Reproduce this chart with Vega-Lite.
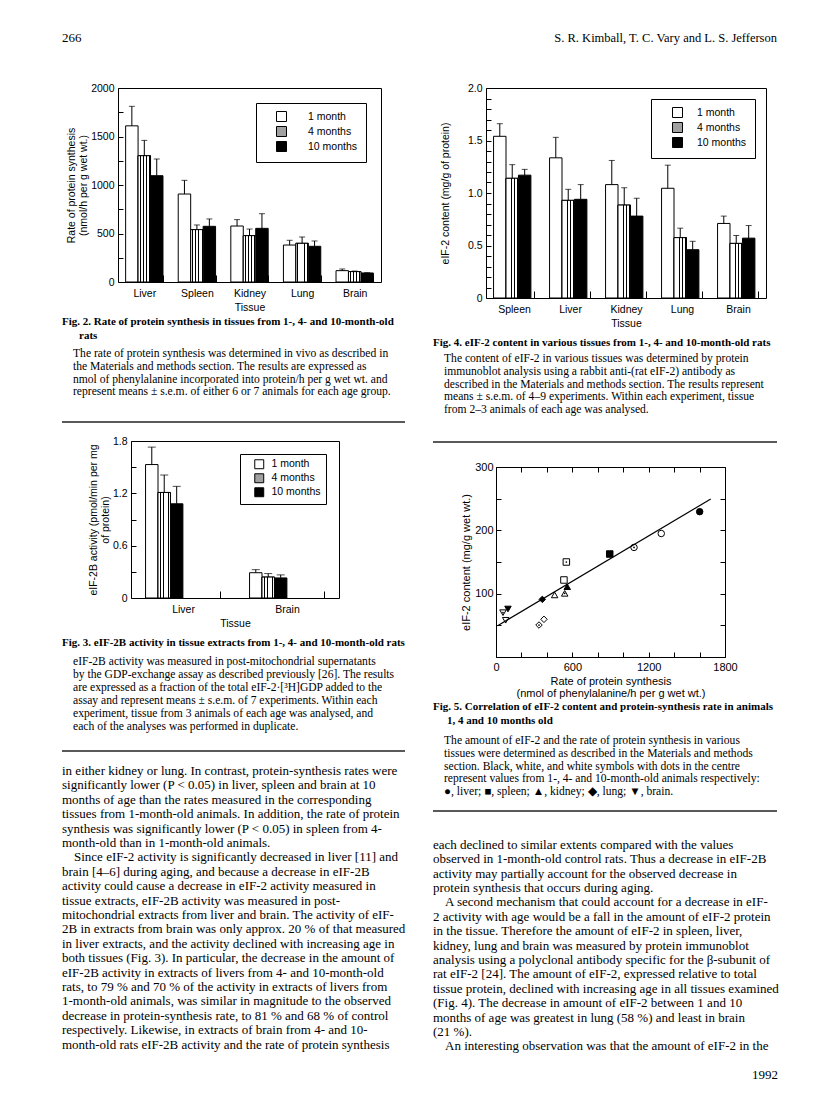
{
"$schema": "https://vega.github.io/schema/vega-lite/v6.json",
"background": "white",
"padding": {"left": 61, "top": 31, "right": 4, "bottom": 4},
"config": {
  "font": "Liberation Sans",
  "view": {"stroke": null},
  "axis": {"labelFont": "Liberation Sans", "titleFont": "Liberation Sans", "labelFontSize": 10.5, "titleFontSize": 10.5, "titleFontWeight": "normal", "labelColor": "black", "titleColor": "black", "tickColor": "black", "domainColor": "black", "grid": false, "labelAngle": 0},
  "legend": {"labelFont": "Liberation Sans", "labelFontSize": 10.5, "labelColor": "black"}
},
"datasets": {
  "f2": [
    {"t": "Liver", "a": "1 month", "v": 1610, "hi": 1811},
    {"t": "Liver", "a": "4 months", "v": 1302, "hi": 1460},
    {"t": "Liver", "a": "10 months", "v": 1096, "hi": 1268},
    {"t": "Spleen", "a": "1 month", "v": 907, "hi": 1048},
    {"t": "Spleen", "a": "4 months", "v": 540, "hi": 588},
    {"t": "Spleen", "a": "10 months", "v": 574, "hi": 650},
    {"t": "Kidney", "a": "1 month", "v": 577, "hi": 643},
    {"t": "Kidney", "a": "4 months", "v": 478, "hi": 546},
    {"t": "Kidney", "a": "10 months", "v": 553, "hi": 704},
    {"t": "Lung", "a": "1 month", "v": 381, "hi": 430},
    {"t": "Lung", "a": "4 months", "v": 399, "hi": 464},
    {"t": "Lung", "a": "10 months", "v": 368, "hi": 423},
    {"t": "Brain", "a": "1 month", "v": 117, "hi": 134},
    {"t": "Brain", "a": "4 months", "v": 107, "hi": 113},
    {"t": "Brain", "a": "10 months", "v": 93, "hi": 96}
  ],
  "f4": [
    {"t": "Spleen", "a": "1 month", "v": 1.54, "hi": 1.66},
    {"t": "Spleen", "a": "4 months", "v": 1.14, "hi": 1.27},
    {"t": "Spleen", "a": "10 months", "v": 1.17, "hi": 1.225},
    {"t": "Liver", "a": "1 month", "v": 1.335, "hi": 1.53},
    {"t": "Liver", "a": "4 months", "v": 0.93, "hi": 1.035},
    {"t": "Liver", "a": "10 months", "v": 0.94, "hi": 1.08},
    {"t": "Kidney", "a": "1 month", "v": 1.08, "hi": 1.31},
    {"t": "Kidney", "a": "4 months", "v": 0.885, "hi": 1.05},
    {"t": "Kidney", "a": "10 months", "v": 0.78, "hi": 0.95},
    {"t": "Lung", "a": "1 month", "v": 1.045, "hi": 1.265},
    {"t": "Lung", "a": "4 months", "v": 0.575, "hi": 0.665},
    {"t": "Lung", "a": "10 months", "v": 0.46, "hi": 0.54},
    {"t": "Brain", "a": "1 month", "v": 0.71, "hi": 0.78},
    {"t": "Brain", "a": "4 months", "v": 0.52, "hi": 0.595},
    {"t": "Brain", "a": "10 months", "v": 0.57, "hi": 0.69}
  ],
  "f3": [
    {"t": "Liver", "a": "1 month", "v": 1.53, "hi": 1.73},
    {"t": "Liver", "a": "4 months", "v": 1.21, "hi": 1.41},
    {"t": "Liver", "a": "10 months", "v": 1.08, "hi": 1.28},
    {"t": "Brain", "a": "1 month", "v": 0.29, "hi": 0.325},
    {"t": "Brain", "a": "4 months", "v": 0.24, "hi": 0.28},
    {"t": "Brain", "a": "10 months", "v": 0.23, "hi": 0.265}
  ],
  "f5": [
    {"t": "Liver", "a": "1 month", "x": 1601, "y": 229.5},
    {"t": "Liver", "a": "4 months", "x": 1299, "y": 195},
    {"t": "Liver", "a": "10 months", "x": 1085, "y": 173},
    {"t": "Spleen", "a": "1 month", "x": 894, "y": 162.6},
    {"t": "Spleen", "a": "4 months", "x": 534, "y": 121.6},
    {"t": "Spleen", "a": "10 months", "x": 553, "y": 150},
    {"t": "Kidney", "a": "1 month", "x": 560, "y": 111},
    {"t": "Kidney", "a": "4 months", "x": 461, "y": 98},
    {"t": "Kidney", "a": "10 months", "x": 540, "y": 100.5},
    {"t": "Lung", "a": "1 month", "x": 364, "y": 91},
    {"t": "Lung", "a": "4 months", "x": 377, "y": 59.5},
    {"t": "Lung", "a": "10 months", "x": 338, "y": 50.5},
    {"t": "Brain", "a": "1 month", "x": 94, "y": 75.8},
    {"t": "Brain", "a": "4 months", "x": 76, "y": 58},
    {"t": "Brain", "a": "10 months", "x": 55, "y": 70}
  ],
  "f5line": [{"x": 13, "y": 49.5}, {"x": 1688, "y": 249.5}],
  "hdrL": [{"t": "266"}],
  "hdrR": [{"t": "S. R. Kimball, T. C. Vary and L. S. Jefferson"}],
  "cap2t": [
    {"n": 0, "t": "Fig. 2. Rate of protein synthesis in tissues from 1-, 4- and 10-month-old"}
  ],
  "cap2ti": [
    {"n": 1, "t": "rats"}
  ],
  "cap2b": [
    {"n": 0, "t": "The rate of protein synthesis was determined in vivo as described in"},
    {"n": 1, "t": "the Materials and methods section. The results are expressed as"},
    {"n": 2, "t": "nmol of phenylalanine incorporated into protein/h per g wet wt. and"},
    {"n": 3, "t": "represent means \u00b1 s.e.m. of either 6 or 7 animals for each age group."}
  ],
  "cap3t": [
    {"n": 0, "t": "Fig. 3. eIF-2B activity in tissue extracts from 1-, 4- and 10-month-old rats"}
  ],
  "cap3b": [
    {"n": 0, "t": "eIF-2B activity was measured in post-mitochondrial supernatants"},
    {"n": 1, "t": "by the GDP-exchange assay as described previously [26]. The results"},
    {"n": 2, "t": "are expressed as a fraction of the total eIF-2\u00b7[\u00b3H]GDP added to the"},
    {"n": 3, "t": "assay and represent means \u00b1 s.e.m. of 7 experiments. Within each"},
    {"n": 4, "t": "experiment, tissue from 3 animals of each age was analysed, and"},
    {"n": 5, "t": "each of the analyses was performed in duplicate."}
  ],
  "cap4t": [
    {"n": 0, "t": "Fig. 4. eIF-2 content in various tissues from 1-, 4- and 10-month-old rats"}
  ],
  "cap4b": [
    {"n": 0, "t": "The content of eIF-2 in various tissues was determined by protein"},
    {"n": 1, "t": "immunoblot analysis using a rabbit anti-(rat eIF-2) antibody as"},
    {"n": 2, "t": "described in the Materials and methods section. The results represent"},
    {"n": 3, "t": "means \u00b1 s.e.m. of 4\u20139 experiments. Within each experiment, tissue"},
    {"n": 4, "t": "from 2\u20133 animals of each age was analysed."}
  ],
  "cap5t": [
    {"n": 0, "t": "Fig. 5. Correlation of eIF-2 content and protein-synthesis rate in animals"}
  ],
  "cap5ti": [
    {"n": 1, "t": "1, 4 and 10 months old"}
  ],
  "cap5b": [
    {"n": 0, "t": "The amount of eIF-2 and the rate of protein synthesis in various"},
    {"n": 1, "t": "tissues were determined as described in the Materials and methods"},
    {"n": 2, "t": "section. Black, white, and white symbols with dots in the centre"},
    {"n": 3, "t": "represent values from 1-, 4- and 10-month-old animals respectively:"},
    {"n": 4, "t": "\u25cf, liver; \u25a0, spleen; \u25b2, kidney; \u25c6, lung; \u25bc, brain."}
  ],
  "bodyL": [
    {"n": 0, "t": "in either kidney or lung. In contrast, protein-synthesis rates were"},
    {"n": 1, "t": "significantly lower (P < 0.05) in liver, spleen and brain at 10"},
    {"n": 2, "t": "months of age than the rates measured in the corresponding"},
    {"n": 3, "t": "tissues from 1-month-old animals. In addition, the rate of protein"},
    {"n": 4, "t": "synthesis was significantly lower (P < 0.05) in spleen from 4-"},
    {"n": 5, "t": "month-old than in 1-month-old animals."},
    {"n": 7, "t": "brain [4\u20136] during aging, and because a decrease in eIF-2B"},
    {"n": 8, "t": "activity could cause a decrease in eIF-2 activity measured in"},
    {"n": 9, "t": "tissue extracts, eIF-2B activity was measured in post-"},
    {"n": 10, "t": "mitochondrial extracts from liver and brain. The activity of eIF-"},
    {"n": 11, "t": "2B in extracts from brain was only approx. 20 % of that measured"},
    {"n": 12, "t": "in liver extracts, and the activity declined with increasing age in"},
    {"n": 13, "t": "both tissues (Fig. 3). In particular, the decrease in the amount of"},
    {"n": 14, "t": "eIF-2B activity in extracts of livers from 4- and 10-month-old"},
    {"n": 15, "t": "rats, to 79 % and 70 % of the activity in extracts of livers from"},
    {"n": 16, "t": "1-month-old animals, was similar in magnitude to the observed"},
    {"n": 17, "t": "decrease in protein-synthesis rate, to 81 % and 68 % of control"},
    {"n": 18, "t": "respectively. Likewise, in extracts of brain from 4- and 10-"},
    {"n": 19, "t": "month-old rats eIF-2B activity and the rate of protein synthesis"}
  ],
  "bodyLi": [
    {"n": 6, "t": "Since eIF-2 activity is significantly decreased in liver [11] and"}
  ],
  "bodyR": [
    {"n": 0, "t": "each declined to similar extents compared with the values"},
    {"n": 1, "t": "observed in 1-month-old control rats. Thus a decrease in eIF-2B"},
    {"n": 2, "t": "activity may partially account for the observed decrease in"},
    {"n": 3, "t": "protein synthesis that occurs during aging."},
    {"n": 5, "t": "2 activity with age would be a fall in the amount of eIF-2 protein"},
    {"n": 6, "t": "in the tissue. Therefore the amount of eIF-2 in spleen, liver,"},
    {"n": 7, "t": "kidney, lung and brain was measured by protein immunoblot"},
    {"n": 8, "t": "analysis using a polyclonal antibody specific for the \u03b2-subunit of"},
    {"n": 9, "t": "rat eIF-2 [24]. The amount of eIF-2, expressed relative to total"},
    {"n": 10, "t": "tissue protein, declined with increasing age in all tissues examined"},
    {"n": 11, "t": "(Fig. 4). The decrease in amount of eIF-2 between 1 and 10"},
    {"n": 12, "t": "months of age was greatest in lung (58 %) and least in brain"},
    {"n": 13, "t": "(21 %)."}
  ],
  "bodyRi": [
    {"n": 4, "t": "A second mechanism that could account for a decrease in eIF-"},
    {"n": 14, "t": "An interesting observation was that the amount of eIF-2 in the"}
  ],
  "foot": [{"n": 16, "t": "1992"}]
},
"resolve": {"scale": {"fill": "independent", "shape": "independent"}},
"vconcat": [
  {
    "width": 715, "height": 14,
    "layer": [
      {"data": {"name": "hdrL"}, "mark": {"type": "text", "align": "left", "baseline": "middle", "font": "Liberation Serif", "fontSize": 13, "color": "black"},
       "encoding": {"x": {"datum": 0, "type": "quantitative", "scale": {"domain": [0, 1]}, "axis": null}, "y": {"datum": 0, "type": "quantitative", "scale": {"domain": [-1, 1]}, "axis": null}, "text": {"field": "t"}}},
      {"data": {"name": "hdrR"}, "mark": {"type": "text", "align": "right", "baseline": "middle", "font": "Liberation Serif", "fontSize": 12.5, "color": "black"},
       "encoding": {"x": {"datum": 1, "type": "quantitative", "scale": {"domain": [0, 1]}, "axis": null}, "y": {"datum": 0, "type": "quantitative", "scale": {"domain": [-1, 1]}, "axis": null}, "text": {"field": "t"}}}
    ]
  },
  {
    "spacing": 26,
    "resolve": {"scale": {"fill": "independent", "shape": "independent"}},
    "hconcat": [
      {
        "spacing": 0,
        "resolve": {"scale": {"fill": "independent", "shape": "independent"}},
        "vconcat": [
          {
            "spacing": 0,
            "resolve": {"scale": {"fill": "independent", "shape": "independent"}},
            "hconcat": [
              {"width": 4, "height": 1, "data": {"values": []}, "mark": "point", "encoding": {}},
              {
                "width": 263, "height": 194,
                "view": {"stroke": "black", "strokeWidth": 1},
                "data": {"name": "f2"},
                "encoding": {
                  "x": {"field": "t", "type": "nominal", "sort": ["Liver", "Spleen", "Kidney", "Lung", "Brain"], "scale": {"paddingInner": 0.29, "paddingOuter": 0.145},
                        "axis": {"title": "Tissue", "tickBand": "extent", "tickSize": -7, "labelPadding": 13, "domain": false, "titlePadding": 4}},
                  "xOffset": {"field": "a", "type": "nominal", "sort": ["1 month", "4 months", "10 months"], "scale": {"paddingInner": 0, "paddingOuter": 0}},
                  "y": {"field": "v", "type": "quantitative", "scale": {"domain": [0, 2000], "nice": false},
                        "axis": {"title": ["Rate of protein synthesis", "(nmol/h per g wet wt.)"], "values": [0, 250, 500, 750, 1000, 1250, 1500, 1750, 2000], "format": "d", "labelExpr": "datum.value % 500 === 0 ? datum.label : ''", "tickSize": -5, "labelPadding": 9, "domain": false, "titlePadding": 2, "titleLineHeight": 12}}
                },
                "layer": [
                  {"mark": {"type": "bar", "stroke": "black", "strokeWidth": 1},
                   "encoding": {
                     "fill": {"field": "a", "type": "nominal", "sort": ["1 month", "4 months", "10 months"], "scale": {"domain": ["1 month", "4 months", "10 months"], "range": ["white", "#a0a0a0", "black"]},
                              "legend": {"orient": "top-right", "offset": 15, "title": null, "strokeColor": "black", "fillColor": "white", "padding": 8, "symbolType": "square", "symbolSize": 100, "symbolStrokeColor": "black", "symbolStrokeWidth": 1, "labelOffset": 21, "symbolOffset": 12, "rowPadding": 0}}
                   }},
                  {"transform": [{"filter": "datum.a === '4 months'"}],
                   "mark": {"type": "bar", "stroke": "black", "strokeWidth": 1, "fill": {"gradient": "linear", "x1": 0, "y1": 0, "x2": 1, "y2": 0, "stops": [
                     {"offset": 0, "color": "white"}, {"offset": 0.125, "color": "white"}, {"offset": 0.125, "color": "black"}, {"offset": 0.2, "color": "black"}, {"offset": 0.2, "color": "white"},
                     {"offset": 0.375, "color": "white"}, {"offset": 0.375, "color": "black"}, {"offset": 0.45, "color": "black"}, {"offset": 0.45, "color": "white"},
                     {"offset": 0.625, "color": "white"}, {"offset": 0.625, "color": "black"}, {"offset": 0.7, "color": "black"}, {"offset": 0.7, "color": "white"},
                     {"offset": 0.875, "color": "white"}, {"offset": 0.875, "color": "black"}, {"offset": 0.95, "color": "black"}, {"offset": 0.95, "color": "white"}, {"offset": 1, "color": "white"}]}}},
                  {"mark": {"type": "rule", "color": "black", "strokeWidth": 1},
                   "encoding": {"y2": {"field": "hi"}}},
                  {"mark": {"type": "tick", "color": "black", "thickness": 1, "size": 6},
                   "encoding": {"y": {"field": "hi", "type": "quantitative", "scale": {"domain": [0, 2000], "nice": false},
                        "axis": {"title": ["Rate of protein synthesis", "(nmol/h per g wet wt.)"], "values": [0, 250, 500, 750, 1000, 1250, 1500, 1750, 2000], "format": "d", "labelExpr": "datum.value % 500 === 0 ? datum.label : ''", "tickSize": -5, "labelPadding": 9, "domain": false, "titlePadding": 2, "titleLineHeight": 12}}}}
                ]
              }
            ]
          },
          {"width": 344, "height": 29,
           "layer": [
             {"data": {"name": "cap2t"},
              "mark": {"type": "text", "align": "left", "baseline": "middle", "font": "Liberation Serif", "fontSize": 11, "fontWeight": "bold", "color": "black"},
              "encoding": {"x": {"datum": 0, "type": "quantitative", "scale": {"domain": [0, 1]}, "axis": null},
                           "y": {"field": "n", "type": "quantitative", "scale": {"domain": [-0.571, 1.5], "reverse": true, "nice": false, "zero": false}, "axis": null},
                           "text": {"field": "t"}}},
             {"data": {"name": "cap2ti"},
              "mark": {"type": "text", "align": "left", "baseline": "middle", "font": "Liberation Serif", "fontSize": 11, "fontWeight": "bold", "color": "black", "dx": 17},
              "encoding": {"x": {"datum": 0, "type": "quantitative", "scale": {"domain": [0, 1]}, "axis": null},
                           "y": {"field": "n", "type": "quantitative", "scale": {"domain": [-0.571, 1.5], "reverse": true, "nice": false, "zero": false}, "axis": null},
                           "text": {"field": "t"}}}
           ]},
          {"width": 344, "height": 78, "data": {"name": "cap2b"},
           "mark": {"type": "text", "align": "left", "baseline": "middle", "font": "Liberation Serif", "fontSize": 11.6, "color": "black", "dx": 11},
           "encoding": {"x": {"datum": 0, "type": "quantitative", "scale": {"domain": [0, 1]}, "axis": null},
                        "y": {"field": "n", "type": "quantitative", "scale": {"domain": [-0.859, 5.235], "reverse": true, "nice": false, "zero": false}, "axis": null},
                        "text": {"field": "t"}}},
          {"width": 343, "height": 13, "data": {"values": [{}]},
           "mark": {"type": "rule", "color": "#222222", "strokeWidth": 1.5},
           "encoding": {"x": {"datum": 0, "type": "quantitative", "scale": {"domain": [0, 1]}, "axis": null}, "x2": {"datum": 1},
                        "y": {"datum": 1, "type": "quantitative", "scale": {"domain": [0, 1]}, "axis": null}}},
          {
            "spacing": 0,
            "resolve": {"scale": {"fill": "independent", "shape": "independent"}},
            "hconcat": [
              {"width": 25, "height": 1, "data": {"values": []}, "mark": "point", "encoding": {}},
              {
                "width": 208, "height": 157,
                "view": {"stroke": "black", "strokeWidth": 1},
                "data": {"name": "f3"},
                "encoding": {
                  "x": {"field": "t", "type": "nominal", "sort": ["Liver", "Brain"], "scale": {"paddingInner": 0.28, "paddingOuter": 0.14},
                        "axis": {"title": "Tissue", "tickBand": "extent", "tickSize": -7, "labelPadding": 13, "domain": false, "titlePadding": 4}},
                  "xOffset": {"field": "a", "type": "nominal", "sort": ["1 month", "4 months", "10 months"], "scale": {"paddingInner": 0, "paddingOuter": 0}},
                  "y": {"field": "v", "type": "quantitative", "scale": {"domain": [0, 1.8], "nice": false},
                        "axis": {"title": ["eIF-2B activity (pmol/min per mg", "of protein)"], "values": [0, 0.3, 0.6, 0.9, 1.2, 1.5, 1.8], "labelExpr": "datum.value === 0 ? '0' : (abs(datum.value / 0.6 - round(datum.value / 0.6)) < 0.000001 ? format(datum.value, '.1f') : '')", "tickSize": -5, "labelPadding": 9, "domain": false, "titlePadding": 2, "titleLineHeight": 12}}
                },
                "layer": [
                  {"mark": {"type": "bar", "stroke": "black", "strokeWidth": 1},
                   "encoding": {
                     "fill": {"field": "a", "type": "nominal", "sort": ["1 month", "4 months", "10 months"], "scale": {"domain": ["1 month", "4 months", "10 months"], "range": ["white", "#a0a0a0", "black"]},
                              "legend": {"orient": "top-right", "offset": 13, "title": null, "strokeColor": "black", "fillColor": "white", "padding": 5, "symbolType": "square", "symbolSize": 80, "symbolStrokeColor": "black", "symbolStrokeWidth": 1, "labelOffset": 7, "symbolOffset": 9, "rowPadding": 0}}
                   }},
                  {"transform": [{"filter": "datum.a === '4 months'"}],
                   "mark": {"type": "bar", "stroke": "black", "strokeWidth": 1, "fill": {"gradient": "linear", "x1": 0, "y1": 0, "x2": 1, "y2": 0, "stops": [
                     {"offset": 0, "color": "white"}, {"offset": 0.0625, "color": "white"}, {"offset": 0.0625, "color": "black"}, {"offset": 0.1, "color": "black"}, {"offset": 0.1, "color": "white"},
                     {"offset": 0.1875, "color": "white"}, {"offset": 0.1875, "color": "black"}, {"offset": 0.225, "color": "black"}, {"offset": 0.225, "color": "white"},
                     {"offset": 0.3125, "color": "white"}, {"offset": 0.3125, "color": "black"}, {"offset": 0.35, "color": "black"}, {"offset": 0.35, "color": "white"},
                     {"offset": 0.4375, "color": "white"}, {"offset": 0.4375, "color": "black"}, {"offset": 0.475, "color": "black"}, {"offset": 0.475, "color": "white"},
                     {"offset": 0.5625, "color": "white"}, {"offset": 0.5625, "color": "black"}, {"offset": 0.6, "color": "black"}, {"offset": 0.6, "color": "white"},
                     {"offset": 0.6875, "color": "white"}, {"offset": 0.6875, "color": "black"}, {"offset": 0.725, "color": "black"}, {"offset": 0.725, "color": "white"},
                     {"offset": 0.8125, "color": "white"}, {"offset": 0.8125, "color": "black"}, {"offset": 0.85, "color": "black"}, {"offset": 0.85, "color": "white"},
                     {"offset": 0.9375, "color": "white"}, {"offset": 0.9375, "color": "black"}, {"offset": 0.975, "color": "black"}, {"offset": 0.975, "color": "white"}, {"offset": 1, "color": "white"}]}}},
                  {"mark": {"type": "rule", "color": "black", "strokeWidth": 1},
                   "encoding": {"y2": {"field": "hi"}}},
                  {"mark": {"type": "tick", "color": "black", "thickness": 1, "size": 8},
                   "encoding": {"y": {"field": "hi", "type": "quantitative", "scale": {"domain": [0, 1.8], "nice": false},
                        "axis": {"title": ["eIF-2B activity (pmol/min per mg", "of protein)"], "values": [0, 0.3, 0.6, 0.9, 1.2, 1.5, 1.8], "labelExpr": "datum.value === 0 ? '0' : (abs(datum.value / 0.6 - round(datum.value / 0.6)) < 0.000001 ? format(datum.value, '.1f') : '')", "tickSize": -5, "labelPadding": 9, "domain": false, "titlePadding": 2, "titleLineHeight": 12}}}}
                ]
              }
            ]
          },
          {"width": 344, "height": 20, "data": {"name": "cap3t"},
           "mark": {"type": "text", "align": "left", "baseline": "middle", "font": "Liberation Serif", "fontSize": 11, "fontWeight": "bold", "color": "black"},
           "encoding": {"x": {"datum": 0, "type": "quantitative", "scale": {"domain": [0, 1]}, "axis": null},
                        "y": {"field": "n", "type": "quantitative", "scale": {"domain": [-0.929, 0.5], "reverse": true, "nice": false, "zero": false}, "axis": null},
                        "text": {"field": "t"}}},
          {"width": 344, "height": 100, "data": {"name": "cap3b"},
           "mark": {"type": "text", "align": "left", "baseline": "middle", "font": "Liberation Serif", "fontSize": 11.6, "color": "black", "dx": 11},
           "encoding": {"x": {"datum": 0, "type": "quantitative", "scale": {"domain": [0, 1]}, "axis": null},
                        "y": {"field": "n", "type": "quantitative", "scale": {"domain": [-0.923, 6.769], "reverse": true, "nice": false, "zero": false}, "axis": null},
                        "text": {"field": "t"}}},
          {"width": 343, "height": 10, "data": {"values": [{}]},
           "mark": {"type": "rule", "color": "#222222", "strokeWidth": 1.5},
           "encoding": {"x": {"datum": 0, "type": "quantitative", "scale": {"domain": [0, 1]}, "axis": null}, "x2": {"datum": 1},
                        "y": {"datum": 1, "type": "quantitative", "scale": {"domain": [0, 1]}, "axis": null}}},
          {"width": 344, "height": 290.8,
           "layer": [
             {"data": {"name": "bodyL"},
              "mark": {"type": "text", "align": "left", "baseline": "middle", "font": "Liberation Serif", "fontSize": 13, "color": "black"},
              "encoding": {"x": {"datum": 0, "type": "quantitative", "scale": {"domain": [0, 1]}, "axis": null},
                           "y": {"field": "n", "type": "quantitative", "scale": {"domain": [-0.694, 19.5], "reverse": true, "nice": false, "zero": false}, "axis": null},
                           "text": {"field": "t"}}},
             {"data": {"name": "bodyLi"},
              "mark": {"type": "text", "align": "left", "baseline": "middle", "font": "Liberation Serif", "fontSize": 13, "color": "black", "dx": 12},
              "encoding": {"x": {"datum": 0, "type": "quantitative", "scale": {"domain": [0, 1]}, "axis": null},
                           "y": {"field": "n", "type": "quantitative", "scale": {"domain": [-0.694, 19.5], "reverse": true, "nice": false, "zero": false}, "axis": null},
                           "text": {"field": "t"}}}
           ]}
        ]
      },
      {
        "spacing": 0,
        "resolve": {"scale": {"fill": "independent", "shape": "independent"}},
        "vconcat": [
          {
            "spacing": 0,
            "resolve": {"scale": {"fill": "independent", "shape": "independent"}},
            "hconcat": [
              {"width": 6, "height": 1, "data": {"values": []}, "mark": "point", "encoding": {}},
              {
                "width": 280, "height": 210,
                "view": {"stroke": "black", "strokeWidth": 1},
                "data": {"name": "f4"},
                "encoding": {
                  "x": {"field": "t", "type": "nominal", "sort": ["Spleen", "Liver", "Kidney", "Lung", "Brain"], "scale": {"paddingInner": 0.27, "paddingOuter": 0.135},
                        "axis": {"title": "Tissue", "tickBand": "extent", "tickSize": -7, "labelPadding": 13, "domain": false, "titlePadding": 4}},
                  "xOffset": {"field": "a", "type": "nominal", "sort": ["1 month", "4 months", "10 months"], "scale": {"paddingInner": 0, "paddingOuter": 0}},
                  "y": {"field": "v", "type": "quantitative", "scale": {"domain": [0, 2], "nice": false},
                        "axis": {"title": "eIF-2 content (mg/g of protein)", "values": [0, 0.1, 0.2, 0.3, 0.4, 0.5, 0.6, 0.7, 0.8, 0.9, 1, 1.1, 1.2, 1.3, 1.4, 1.5, 1.6, 1.7, 1.8, 1.9, 2], "labelExpr": "datum.value === 0 ? '0' : (abs(datum.value * 2 - round(datum.value * 2)) < 0.000001 ? format(datum.value, '.1f') : '')", "tickSize": -5, "labelPadding": 9, "domain": false, "titlePadding": 17}}
                },
                "layer": [
                  {"mark": {"type": "bar", "stroke": "black", "strokeWidth": 1},
                   "encoding": {
                     "fill": {"field": "a", "type": "nominal", "sort": ["1 month", "4 months", "10 months"], "scale": {"domain": ["1 month", "4 months", "10 months"], "range": ["white", "#a0a0a0", "black"]},
                              "legend": {"orient": "top-right", "offset": 11, "title": null, "strokeColor": "black", "fillColor": "white", "padding": 8, "symbolType": "square", "symbolSize": 100, "symbolStrokeColor": "black", "symbolStrokeWidth": 1, "labelOffset": 14, "symbolOffset": 13, "rowPadding": 0}}
                   }},
                  {"transform": [{"filter": "datum.a === '4 months'"}],
                   "mark": {"type": "bar", "stroke": "black", "strokeWidth": 1, "fill": {"gradient": "linear", "x1": 0, "y1": 0, "x2": 1, "y2": 0, "stops": [
                     {"offset": 0, "color": "white"}, {"offset": 0.125, "color": "white"}, {"offset": 0.125, "color": "black"}, {"offset": 0.2, "color": "black"}, {"offset": 0.2, "color": "white"},
                     {"offset": 0.375, "color": "white"}, {"offset": 0.375, "color": "black"}, {"offset": 0.45, "color": "black"}, {"offset": 0.45, "color": "white"},
                     {"offset": 0.625, "color": "white"}, {"offset": 0.625, "color": "black"}, {"offset": 0.7, "color": "black"}, {"offset": 0.7, "color": "white"},
                     {"offset": 0.875, "color": "white"}, {"offset": 0.875, "color": "black"}, {"offset": 0.95, "color": "black"}, {"offset": 0.95, "color": "white"}, {"offset": 1, "color": "white"}]}}},
                  {"mark": {"type": "rule", "color": "black", "strokeWidth": 1},
                   "encoding": {"y2": {"field": "hi"}}},
                  {"mark": {"type": "tick", "color": "black", "thickness": 1, "size": 6},
                   "encoding": {"y": {"field": "hi", "type": "quantitative", "scale": {"domain": [0, 2], "nice": false},
                        "axis": {"title": "eIF-2 content (mg/g of protein)", "values": [0, 0.1, 0.2, 0.3, 0.4, 0.5, 0.6, 0.7, 0.8, 0.9, 1, 1.1, 1.2, 1.3, 1.4, 1.5, 1.6, 1.7, 1.8, 1.9, 2], "labelExpr": "datum.value === 0 ? '0' : (abs(datum.value * 2 - round(datum.value * 2)) < 0.000001 ? format(datum.value, '.1f') : '')", "tickSize": -5, "labelPadding": 9, "domain": false, "titlePadding": 17}}}}
                ]
              }
            ]
          },
          {"width": 344, "height": 20, "data": {"name": "cap4t"},
           "mark": {"type": "text", "align": "left", "baseline": "middle", "font": "Liberation Serif", "fontSize": 11, "fontWeight": "bold", "color": "black"},
           "encoding": {"x": {"datum": 0, "type": "quantitative", "scale": {"domain": [0, 1]}, "axis": null},
                        "y": {"field": "n", "type": "quantitative", "scale": {"domain": [-0.929, 0.5], "reverse": true, "nice": false, "zero": false}, "axis": null},
                        "text": {"field": "t"}}},
          {"width": 344, "height": 91, "data": {"name": "cap4b"},
           "mark": {"type": "text", "align": "left", "baseline": "middle", "font": "Liberation Serif", "fontSize": 11.6, "color": "black", "dx": 11},
           "encoding": {"x": {"datum": 0, "type": "quantitative", "scale": {"domain": [0, 1]}, "axis": null},
                        "y": {"field": "n", "type": "quantitative", "scale": {"domain": [-0.703, 6.406], "reverse": true, "nice": false, "zero": false}, "axis": null},
                        "text": {"field": "t"}}},
          {"width": 344, "height": 18, "data": {"values": [{}]},
           "mark": {"type": "rule", "color": "#222222", "strokeWidth": 1.5},
           "encoding": {"x": {"datum": 0, "type": "quantitative", "scale": {"domain": [0, 1]}, "axis": null}, "x2": {"datum": 1},
                        "y": {"datum": 1, "type": "quantitative", "scale": {"domain": [0, 1]}, "axis": null}}},
          {
            "spacing": 0,
            "resolve": {"scale": {"fill": "independent", "shape": "independent"}},
            "hconcat": [
              {"width": 27, "height": 1, "data": {"values": []}, "mark": "point", "encoding": {}},
              {
                "width": 229, "height": 190,
                "view": {"stroke": "black", "strokeWidth": 1},
                "resolve": {"axis": {"x": "independent", "y": "independent"}},
                "layer": [
                  {"data": {"name": "f5"},
                   "mark": {"type": "point", "filled": true, "stroke": "black", "strokeWidth": 1, "size": 42, "opacity": 1},
                   "encoding": {
                     "x": {"field": "x", "type": "quantitative", "scale": {"domain": [0, 1800], "nice": false, "zero": false},
                           "axis": {"orient": "bottom", "title": ["Rate of protein synthesis", "(nmol of phenylalanine/h per g wet wt.)"], "values": [0, 200, 400, 600, 800, 1000, 1200, 1400, 1600, 1800], "format": "d", "labelExpr": "datum.value % 600 === 0 ? datum.label : ''", "labelFlush": false, "tickSize": -5, "labelPadding": 9, "domain": false, "titlePadding": 3, "titleLineHeight": 12, "labelFontSize": 11, "titleFontSize": 11}},
                     "y": {"field": "y", "type": "quantitative", "scale": {"domain": [0, 300], "nice": false, "zero": false},
                           "axis": {"orient": "left", "title": "eIF-2 content (mg/g wet wt.)", "values": [0, 50, 100, 150, 200, 250, 300], "labelExpr": "datum.value % 100 === 0 && datum.value > 0 ? datum.label : ''", "tickSize": -5, "labelPadding": 8, "domain": false, "titlePadding": 3, "labelFontSize": 11, "titleFontSize": 11}},
                     "shape": {"field": "t", "type": "nominal", "scale": {"domain": ["Liver", "Spleen", "Kidney", "Lung", "Brain"], "range": ["circle", "square", "triangle-up", "diamond", "triangle-down"]}, "legend": null},
                     "fill": {"field": "a", "type": "nominal", "scale": {"domain": ["1 month", "4 months", "10 months"], "range": ["black", "white", "white"]}, "legend": null}
                   }},
                  {"data": {"name": "f5"},
                   "transform": [{"filter": "datum.a === '10 months'"}],
                   "mark": {"type": "circle", "size": 3, "color": "black", "opacity": 1},
                   "encoding": {
                     "x": {"field": "x", "type": "quantitative", "scale": {"domain": [0, 1800], "nice": false, "zero": false}, "axis": null},
                     "y": {"field": "y", "type": "quantitative", "scale": {"domain": [0, 300], "nice": false, "zero": false}, "axis": null}
                   }},
                  {"data": {"name": "f5line"},
                   "mark": {"type": "line", "color": "black", "strokeWidth": 1.2},
                   "encoding": {
                     "x": {"field": "x", "type": "quantitative", "scale": {"domain": [0, 1800], "nice": false, "zero": false},
                           "axis": {"orient": "top", "title": null, "values": [0, 200, 400, 600, 800, 1000, 1200, 1400, 1600, 1800], "labels": false, "tickSize": -5, "domain": false}},
                     "y": {"field": "y", "type": "quantitative", "scale": {"domain": [0, 300], "nice": false, "zero": false},
                           "axis": {"orient": "right", "title": null, "values": [0, 50, 100, 150, 200, 250, 300], "labels": false, "tickSize": -5, "domain": false}}
                   }}
                ]
              }
            ]
          },
          {"width": 344, "height": 29,
           "layer": [
             {"data": {"name": "cap5t"},
              "mark": {"type": "text", "align": "left", "baseline": "middle", "font": "Liberation Serif", "fontSize": 11, "fontWeight": "bold", "color": "black"},
              "encoding": {"x": {"datum": 0, "type": "quantitative", "scale": {"domain": [0, 1]}, "axis": null},
                           "y": {"field": "n", "type": "quantitative", "scale": {"domain": [-0.571, 1.5], "reverse": true, "nice": false, "zero": false}, "axis": null},
                           "text": {"field": "t"}}},
             {"data": {"name": "cap5ti"},
              "mark": {"type": "text", "align": "left", "baseline": "middle", "font": "Liberation Serif", "fontSize": 11, "fontWeight": "bold", "color": "black", "dx": 14},
              "encoding": {"x": {"datum": 0, "type": "quantitative", "scale": {"domain": [0, 1]}, "axis": null},
                           "y": {"field": "n", "type": "quantitative", "scale": {"domain": [-0.571, 1.5], "reverse": true, "nice": false, "zero": false}, "axis": null},
                           "text": {"field": "t"}}}
           ]},
          {"width": 344, "height": 82, "data": {"name": "cap5b"},
           "mark": {"type": "text", "align": "left", "baseline": "middle", "font": "Liberation Serif", "fontSize": 11.6, "color": "black", "dx": 11},
           "encoding": {"x": {"datum": 0, "type": "quantitative", "scale": {"domain": [0, 1]}, "axis": null},
                        "y": {"field": "n", "type": "quantitative", "scale": {"domain": [-1.016, 5.39], "reverse": true, "nice": false, "zero": false}, "axis": null},
                        "text": {"field": "t"}}},
          {"width": 344, "height": 10, "data": {"values": [{}]},
           "mark": {"type": "rule", "color": "#222222", "strokeWidth": 1.5},
           "encoding": {"x": {"datum": 0, "type": "quantitative", "scale": {"domain": [0, 1]}, "axis": null}, "x2": {"datum": 1},
                        "y": {"datum": 1, "type": "quantitative", "scale": {"domain": [0, 1]}, "axis": null}}},
          {"width": 345, "height": 261.4,
           "layer": [
             {"data": {"name": "bodyR"},
              "mark": {"type": "text", "align": "left", "baseline": "middle", "font": "Liberation Serif", "fontSize": 13, "color": "black"},
              "encoding": {"x": {"datum": 0, "type": "quantitative", "scale": {"domain": [0, 1]}, "axis": null},
                           "y": {"field": "n", "type": "quantitative", "scale": {"domain": [-1.65, 16.5], "reverse": true, "nice": false, "zero": false}, "axis": null},
                           "text": {"field": "t"}}},
             {"data": {"name": "bodyRi"},
              "mark": {"type": "text", "align": "left", "baseline": "middle", "font": "Liberation Serif", "fontSize": 13, "color": "black", "dx": 12},
              "encoding": {"x": {"datum": 0, "type": "quantitative", "scale": {"domain": [0, 1]}, "axis": null},
                           "y": {"field": "n", "type": "quantitative", "scale": {"domain": [-1.65, 16.5], "reverse": true, "nice": false, "zero": false}, "axis": null},
                           "text": {"field": "t"}}},
             {"data": {"name": "foot"},
              "mark": {"type": "text", "align": "right", "baseline": "middle", "font": "Liberation Serif", "fontSize": 13, "color": "black"},
              "encoding": {"x": {"datum": 1, "type": "quantitative", "scale": {"domain": [0, 1]}, "axis": null},
                           "y": {"field": "n", "type": "quantitative", "scale": {"domain": [-1.65, 16.5], "reverse": true, "nice": false, "zero": false}, "axis": null},
                           "text": {"field": "t"}}}
           ]}
        ]
      }
    ]
  }
],
"spacing": 37
}
